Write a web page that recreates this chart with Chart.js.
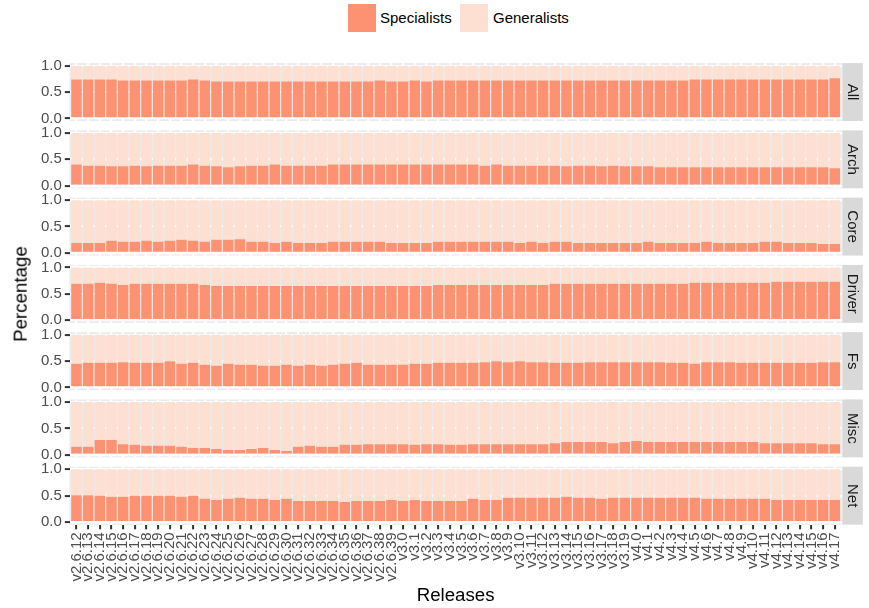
<!DOCTYPE html>
<html>
<head>
<meta charset="utf-8">
<script src="https://cdn.jsdelivr.net/npm/chart.js@4.4.1/dist/chart.umd.min.js"></script>
<style>
  html, body { margin: 0; padding: 0; background: #ffffff; }
  #page { position: relative; width: 869px; height: 608px; overflow: hidden;
          font-family: "Liberation Sans", Arial, Helvetica, sans-serif; }
  #page canvas { position: absolute; left: 0; }
  .key { position: absolute; width: 28px; height: 28px; }
  .keytext { position: absolute; font-size: 15px; line-height: 28px; color: #000; white-space: nowrap; }
  .title { position: absolute; font-size: 18.7px; line-height: 18.7px; color: #000; white-space: nowrap; }
</style>
</head>
<body>
<div id="page"></div>
<script>
// ---- data -------------------------------------------------------------
const releases = [
  'v2.6.12','v2.6.13','v2.6.14','v2.6.15','v2.6.16','v2.6.17','v2.6.18','v2.6.19','v2.6.20','v2.6.21',
  'v2.6.22','v2.6.23','v2.6.24','v2.6.25','v2.6.26','v2.6.27','v2.6.28','v2.6.29','v2.6.30','v2.6.31',
  'v2.6.32','v2.6.33','v2.6.34','v2.6.35','v2.6.36','v2.6.37','v2.6.38','v2.6.39',
  'v3.0','v3.1','v3.2','v3.3','v3.4','v3.5','v3.6','v3.7','v3.8','v3.9',
  'v3.10','v3.11','v3.12','v3.13','v3.14','v3.15','v3.16','v3.17','v3.18','v3.19',
  'v4.0','v4.1','v4.2','v4.3','v4.4','v4.5','v4.6','v4.7','v4.8','v4.9',
  'v4.10','v4.11','v4.12','v4.13','v4.14','v4.15','v4.16','v4.17'
];

const facets = ['All', 'Arch', 'Core', 'Driver', 'Fs', 'Misc', 'Net'];
const seriesNames = ['Specialists', 'Generalists'];

const specialistsAll = [
  0.74,0.74,0.74,0.74,0.72,0.72,0.72,0.72,0.72,0.72,
  0.74,0.72,0.70,0.70,0.70,0.70,0.70,0.70,0.70,0.70,
  0.70,0.70,0.70,0.70,0.70,0.70,0.72,0.70,0.70,0.72,
  0.70,0.72,0.72,0.72,0.72,0.72,0.72,0.72,0.72,0.72,
  0.72,0.72,0.72,0.72,0.72,0.72,0.72,0.72,0.72,0.72,
  0.72,0.72,0.72,0.74,0.74,0.74,0.74,0.74,0.74,0.74,
  0.74,0.74,0.74,0.74,0.74,0.76];
const generalistsAll = [
  0.26,0.26,0.26,0.26,0.28,0.28,0.28,0.28,0.28,0.28,
  0.26,0.28,0.30,0.30,0.30,0.30,0.30,0.30,0.30,0.30,
  0.30,0.30,0.30,0.30,0.30,0.30,0.28,0.30,0.30,0.28,
  0.30,0.28,0.28,0.28,0.28,0.28,0.28,0.28,0.28,0.28,
  0.28,0.28,0.28,0.28,0.28,0.28,0.28,0.28,0.28,0.28,
  0.28,0.28,0.28,0.26,0.26,0.26,0.26,0.26,0.26,0.26,
  0.26,0.26,0.26,0.26,0.26,0.24];

const specialistsArch = [
  0.40,0.38,0.38,0.37,0.37,0.38,0.37,0.38,0.38,0.38,
  0.40,0.38,0.37,0.35,0.37,0.38,0.38,0.40,0.38,0.38,
  0.38,0.38,0.40,0.40,0.40,0.40,0.40,0.40,0.40,0.40,
  0.40,0.40,0.40,0.40,0.40,0.38,0.40,0.38,0.38,0.38,
  0.38,0.38,0.37,0.38,0.38,0.37,0.38,0.37,0.37,0.37,
  0.35,0.35,0.35,0.35,0.35,0.35,0.35,0.35,0.35,0.35,
  0.35,0.35,0.35,0.35,0.35,0.33];
const generalistsArch = [
  0.60,0.62,0.62,0.63,0.63,0.62,0.63,0.62,0.62,0.62,
  0.60,0.62,0.63,0.65,0.63,0.62,0.62,0.60,0.62,0.62,
  0.62,0.62,0.60,0.60,0.60,0.60,0.60,0.60,0.60,0.60,
  0.60,0.60,0.60,0.60,0.60,0.62,0.60,0.62,0.62,0.62,
  0.62,0.62,0.63,0.62,0.62,0.63,0.62,0.63,0.63,0.63,
  0.65,0.65,0.65,0.65,0.65,0.65,0.65,0.65,0.65,0.65,
  0.65,0.65,0.65,0.65,0.65,0.67];

const specialistsCore = [
  0.19,0.19,0.19,0.23,0.21,0.21,0.23,0.21,0.23,0.25,
  0.23,0.21,0.25,0.25,0.26,0.21,0.21,0.19,0.21,0.19,
  0.19,0.19,0.21,0.21,0.21,0.21,0.21,0.19,0.19,0.19,
  0.19,0.21,0.21,0.21,0.21,0.21,0.21,0.21,0.19,0.21,
  0.19,0.21,0.21,0.19,0.19,0.19,0.19,0.19,0.19,0.21,
  0.19,0.19,0.19,0.19,0.21,0.19,0.19,0.19,0.19,0.21,
  0.21,0.19,0.19,0.19,0.17,0.17];
const generalistsCore = [
  0.81,0.81,0.81,0.77,0.79,0.79,0.77,0.79,0.77,0.75,
  0.77,0.79,0.75,0.75,0.74,0.79,0.79,0.81,0.79,0.81,
  0.81,0.81,0.79,0.79,0.79,0.79,0.79,0.81,0.81,0.81,
  0.81,0.79,0.79,0.79,0.79,0.79,0.79,0.79,0.81,0.79,
  0.81,0.79,0.79,0.81,0.81,0.81,0.81,0.81,0.81,0.79,
  0.81,0.81,0.81,0.81,0.79,0.81,0.81,0.81,0.81,0.79,
  0.79,0.81,0.81,0.81,0.83,0.83];

const specialistsDriver = [
  0.69,0.69,0.71,0.69,0.67,0.69,0.69,0.69,0.69,0.69,
  0.69,0.67,0.65,0.65,0.65,0.65,0.65,0.65,0.65,0.65,
  0.65,0.65,0.65,0.65,0.65,0.65,0.65,0.65,0.65,0.65,
  0.65,0.67,0.67,0.67,0.67,0.67,0.67,0.67,0.67,0.67,
  0.67,0.69,0.69,0.69,0.69,0.69,0.69,0.69,0.69,0.69,
  0.69,0.69,0.69,0.71,0.71,0.71,0.71,0.71,0.71,0.71,
  0.73,0.73,0.73,0.73,0.73,0.73];
const generalistsDriver = [
  0.31,0.31,0.29,0.31,0.33,0.31,0.31,0.31,0.31,0.31,
  0.31,0.33,0.35,0.35,0.35,0.35,0.35,0.35,0.35,0.35,
  0.35,0.35,0.35,0.35,0.35,0.35,0.35,0.35,0.35,0.35,
  0.35,0.33,0.33,0.33,0.33,0.33,0.33,0.33,0.33,0.33,
  0.33,0.31,0.31,0.31,0.31,0.31,0.31,0.31,0.31,0.31,
  0.31,0.31,0.31,0.29,0.29,0.29,0.29,0.29,0.29,0.29,
  0.27,0.27,0.27,0.27,0.27,0.27];

const specialistsFs = [
  0.45,0.47,0.47,0.47,0.48,0.47,0.47,0.47,0.50,0.45,
  0.47,0.43,0.41,0.45,0.43,0.43,0.41,0.41,0.43,0.41,
  0.43,0.41,0.43,0.45,0.47,0.43,0.43,0.43,0.43,0.45,
  0.45,0.47,0.47,0.47,0.47,0.48,0.50,0.48,0.50,0.48,
  0.48,0.47,0.47,0.47,0.48,0.48,0.48,0.48,0.48,0.48,
  0.48,0.47,0.47,0.45,0.48,0.48,0.48,0.47,0.47,0.47,
  0.47,0.47,0.47,0.47,0.48,0.48];
const generalistsFs = [
  0.55,0.53,0.53,0.53,0.52,0.53,0.53,0.53,0.50,0.55,
  0.53,0.57,0.59,0.55,0.57,0.57,0.59,0.59,0.57,0.59,
  0.57,0.59,0.57,0.55,0.53,0.57,0.57,0.57,0.57,0.55,
  0.55,0.53,0.53,0.53,0.53,0.52,0.50,0.52,0.50,0.52,
  0.52,0.53,0.53,0.53,0.52,0.52,0.52,0.52,0.52,0.52,
  0.52,0.53,0.53,0.55,0.52,0.52,0.52,0.53,0.53,0.53,
  0.53,0.53,0.53,0.53,0.52,0.52];

const specialistsMisc = [
  0.15,0.15,0.28,0.28,0.20,0.19,0.17,0.17,0.17,0.15,
  0.13,0.13,0.11,0.09,0.09,0.11,0.13,0.09,0.07,0.15,
  0.17,0.15,0.15,0.19,0.19,0.20,0.20,0.20,0.20,0.19,
  0.20,0.20,0.19,0.19,0.20,0.20,0.20,0.20,0.20,0.20,
  0.20,0.22,0.24,0.24,0.24,0.24,0.22,0.24,0.26,0.24,
  0.24,0.24,0.24,0.24,0.24,0.24,0.24,0.24,0.24,0.22,
  0.22,0.22,0.22,0.22,0.20,0.20];
const generalistsMisc = [
  0.85,0.85,0.72,0.72,0.80,0.81,0.83,0.83,0.83,0.85,
  0.87,0.87,0.89,0.91,0.91,0.89,0.87,0.91,0.93,0.85,
  0.83,0.85,0.85,0.81,0.81,0.80,0.80,0.80,0.80,0.81,
  0.80,0.80,0.81,0.81,0.80,0.80,0.80,0.80,0.80,0.80,
  0.80,0.78,0.76,0.76,0.76,0.76,0.78,0.76,0.74,0.76,
  0.76,0.76,0.76,0.76,0.76,0.76,0.76,0.76,0.76,0.78,
  0.78,0.78,0.78,0.78,0.80,0.80];

const specialistsNet = [
  0.51,0.51,0.50,0.48,0.48,0.50,0.50,0.50,0.50,0.48,
  0.50,0.44,0.42,0.44,0.46,0.44,0.44,0.42,0.44,0.40,
  0.40,0.40,0.40,0.38,0.40,0.40,0.40,0.42,0.40,0.42,
  0.40,0.40,0.40,0.40,0.44,0.42,0.42,0.46,0.46,0.46,
  0.46,0.46,0.48,0.46,0.46,0.44,0.46,0.46,0.46,0.46,
  0.46,0.46,0.46,0.46,0.44,0.44,0.44,0.44,0.44,0.44,
  0.42,0.42,0.42,0.42,0.42,0.42];
const generalistsNet = [
  0.49,0.49,0.50,0.52,0.52,0.50,0.50,0.50,0.50,0.52,
  0.50,0.56,0.58,0.56,0.54,0.56,0.56,0.58,0.56,0.60,
  0.60,0.60,0.60,0.62,0.60,0.60,0.60,0.58,0.60,0.58,
  0.60,0.60,0.60,0.60,0.56,0.58,0.58,0.54,0.54,0.54,
  0.54,0.54,0.52,0.54,0.54,0.56,0.54,0.54,0.54,0.54,
  0.54,0.54,0.54,0.54,0.56,0.56,0.56,0.56,0.56,0.56,
  0.58,0.58,0.58,0.58,0.58,0.58];

const yTickValues = [0, 0.25, 0.5, 0.75, 1];
const yTickLabels = ['0.0', '', '0.5', '', '1.0'];

// ---- styling ------------------------------------------------------------
const seriesColors = ['#FC9272', '#FEE0D2'];
const PANEL_BG = '#EBEBEB';
const STRIP_BG = '#D9D9D9';
const GRID = '#FFFFFF';
const TICK_MARK = '#333333';
const AXIS_TEXT = '#4D4D4D';

const PANEL_LEFT = 69.5;
const PANEL_RIGHT = 841.8;
const FIRST_TOP = 63.1;
const PANEL_H = 57.9;
const PANEL_STEP = 67.27;
const STRIP_W = 20.5;
const PAGE_W = 869, PAGE_H = 608;

Chart.defaults.font.family = '"Liberation Sans", Arial, Helvetica, sans-serif';
Chart.defaults.font.size = 15;

const facetSeries = {
  All: [specialistsAll, generalistsAll],
  Arch: [specialistsArch, generalistsArch],
  Core: [specialistsCore, generalistsCore],
  Driver: [specialistsDriver, generalistsDriver],
  Fs: [specialistsFs, generalistsFs],
  Misc: [specialistsMisc, generalistsMisc],
  Net: [specialistsNet, generalistsNet]
};

const isMajor = v => Math.abs(v * 2 - Math.round(v * 2)) < 1e-6;

// grey panel background behind the bars
const panelBackground = {
  id: 'panelBackground',
  beforeDraw(chart) {
    const { ctx, chartArea: a } = chart;
    ctx.save();
    ctx.fillStyle = PANEL_BG;
    ctx.fillRect(a.left, a.top, a.right - a.left, a.bottom - a.top);
    ctx.restore();
  }
};

// facet strip on the right of each panel
const facetStrip = {
  id: 'facetStrip',
  afterDraw(chart, args, opts) {
    const { ctx, chartArea: a } = chart;
    const x = a.right + 0.5;
    ctx.save();
    ctx.fillStyle = STRIP_BG;
    ctx.fillRect(x, a.top, STRIP_W, a.bottom - a.top);
    ctx.translate(x + STRIP_W / 2, (a.top + a.bottom) / 2);
    ctx.rotate(Math.PI / 2);
    ctx.fillStyle = '#1A1A1A';
    ctx.font = '15px "Liberation Sans", Arial, sans-serif';
    ctx.textAlign = 'center';
    ctx.textBaseline = 'middle';
    ctx.fillText(opts.label, 0, 0);
    ctx.restore();
  }
};

const page = document.getElementById('page');

facets.forEach((facet, i) => {
  const last = i === facets.length - 1;
  const panelTop = FIRST_TOP + i * PANEL_STEP;
  const canvasTop = Math.floor(panelTop) - 16;
  const canvasH = last ? PAGE_H - canvasTop : 90;
  const xAxisH = last ? 70 : 0;
  const padTop = panelTop - canvasTop;
  const padBottom = canvasH - padTop - PANEL_H - xAxisH;

  const canvas = document.createElement('canvas');
  canvas.width = PAGE_W;
  canvas.height = canvasH;
  canvas.style.top = canvasTop + 'px';
  canvas.style.width = PAGE_W + 'px';
  canvas.style.height = canvasH + 'px';
  page.appendChild(canvas);

  const [spec, gen] = facetSeries[facet];

  new Chart(canvas, {
    type: 'bar',
    data: {
      datasets: [
        { label: seriesNames[0], data: spec.map((v, k) => ({ x: k, y: v })),
          backgroundColor: seriesColors[0], borderWidth: 0 },
        { label: seriesNames[1], data: gen.map((v, k) => ({ x: k, y: v })),
          backgroundColor: seriesColors[1], borderWidth: 0 }
      ]
    },
    options: {
      responsive: false,
      animation: false,
      events: [],
      devicePixelRatio: 1,
      datasets: { bar: { barPercentage: 0.9, categoryPercentage: 1.0 } },
      layout: { padding: { left: 0, right: PAGE_W - PANEL_RIGHT, top: padTop, bottom: padBottom } },
      plugins: {
        legend: { display: false },
        tooltip: { enabled: false },
        facetStrip: { label: facet }
      },
      scales: {
        x: {
          type: 'linear',
          stacked: true,
          offset: false,
          min: -0.6,
          max: releases.length - 0.4,
          afterBuildTicks: s => { s.ticks = releases.map((_, k) => ({ value: k })); },
          afterFit: s => { s.height = xAxisH; },
          border: { display: false },
          grid: {
            offset: false,
            color: GRID,
            lineWidth: 2.2,
            drawTicks: last,
            tickLength: 4.7,
            tickColor: TICK_MARK,
            tickWidth: 2
          },
          ticks: {
            display: last,
            autoSkip: false,
            maxRotation: 90,
            minRotation: 90,
            padding: 3,
            color: AXIS_TEXT,
            font: { size: 15 },
            callback: v => releases[v]
          }
        },
        y: {
          type: 'linear',
          stacked: true,
          min: -0.05,
          max: 1.05,
          afterBuildTicks: s => { s.ticks = yTickValues.map(v => ({ value: v })); },
          afterFit: s => { s.width = PANEL_LEFT; },
          border: { display: false },
          grid: {
            color: GRID,
            lineWidth: c => (c.tick && isMajor(c.tick.value)) ? 2.2 : 1.1,
            tickLength: 4.7,
            tickWidth: 2,
            tickColor: c => (c.tick && isMajor(c.tick.value)) ? TICK_MARK : 'rgba(0,0,0,0)'
          },
          ticks: {
            padding: 3,
            color: AXIS_TEXT,
            font: { size: 15 },
            callback: (v, k) => yTickLabels[k]
          }
        }
      }
    },
    plugins: [panelBackground, facetStrip]
  });
});

// legend
const legendItems = [
  { key: 348, text: 380 },
  { key: 460, text: 493 }
];
seriesNames.forEach((name, k) => {
  const key = document.createElement('div');
  key.className = 'key';
  key.style.left = legendItems[k].key + 'px';
  key.style.top = '4px';
  key.style.background = seriesColors[k];
  page.appendChild(key);
  const t = document.createElement('div');
  t.className = 'keytext';
  t.style.left = legendItems[k].text + 'px';
  t.style.top = '4px';
  t.textContent = name;
  page.appendChild(t);
});

// axis titles
const yTitle = document.createElement('div');
yTitle.className = 'title';
yTitle.textContent = 'Percentage';
yTitle.style.left = '20.5px';
yTitle.style.top = ((FIRST_TOP + FIRST_TOP + 6 * PANEL_STEP + PANEL_H) / 2) + 'px';
yTitle.style.transform = 'translate(-50%, -50%) rotate(-90deg)';
page.appendChild(yTitle);

const xTitle = document.createElement('div');
xTitle.className = 'title';
xTitle.textContent = 'Releases';
xTitle.style.left = ((PANEL_LEFT + PANEL_RIGHT) / 2) + 'px';
xTitle.style.top = '585.9px';
xTitle.style.transform = 'translateX(-50%)';
page.appendChild(xTitle);
</script>
</body>
</html>
